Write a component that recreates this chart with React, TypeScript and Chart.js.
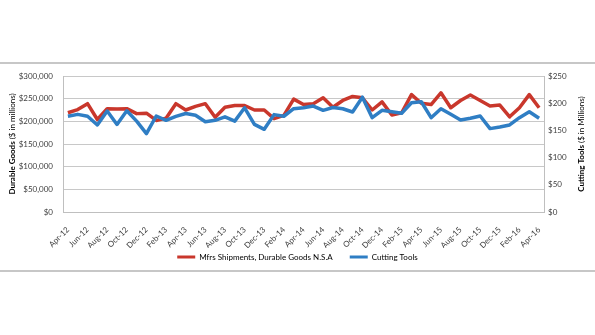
import React, { useEffect, useRef } from "react";
import { Chart, registerables } from "chart.js";

Chart.register(...registerables);

const months = [
  "Apr-12", "May-12", "Jun-12", "Jul-12", "Aug-12", "Sep-12", "Oct-12", "Nov-12", "Dec-12",
  "Jan-13", "Feb-13", "Mar-13", "Apr-13", "May-13", "Jun-13", "Jul-13", "Aug-13", "Sep-13", "Oct-13", "Nov-13", "Dec-13",
  "Jan-14", "Feb-14", "Mar-14", "Apr-14", "May-14", "Jun-14", "Jul-14", "Aug-14", "Sep-14", "Oct-14", "Nov-14", "Dec-14",
  "Jan-15", "Feb-15", "Mar-15", "Apr-15", "May-15", "Jun-15", "Jul-15", "Aug-15", "Sep-15", "Oct-15", "Nov-15", "Dec-15",
  "Jan-16", "Feb-16", "Mar-16", "Apr-16",
];

// Mfrs Shipments, Durable Goods N.S.A ($ in millions) - left axis
const durableGoods = [
  219000, 226000, 239000, 204000, 228000, 227000, 228000, 217000, 218000, 202000,
  207000, 239000, 225000, 233000, 239000, 209000, 231000, 235000, 235000, 225000,
  225000, 206000, 213000, 249000, 237000, 239000, 252000, 231000, 246000, 255000,
  252000, 225000, 243000, 214000, 219000, 259000, 240000, 237000, 263000, 230000,
  246000, 258000, 246000, 234000, 236000, 210000, 230000, 259000, 230000,
];

// Cutting Tools ($ in Millions) - right axis
const cuttingTools = [
  176, 179.5, 176, 160, 185.6, 161, 186, 167, 144, 176.5,
  168.6, 175.7, 181, 178, 166, 168.6, 175, 167, 191.6, 161,
  152, 179, 176, 190, 191.6, 194.7, 186.9, 192, 189.8, 183.8,
  211, 173.4, 186.9, 184.3, 181.4, 200.7, 202.6, 173.4, 189.8, 179.6,
  169.2, 172.2, 176.5, 153.3, 156.4, 160, 173.4, 184.3, 172.2,
];

const seriesNames = ["Mfrs Shipments, Durable Goods N.S.A", "Cutting Tools"];
const seriesColors = ["#C9372C", "#2F7EC4"];
const leftAxis = { min: 0, max: 300000, step: 50000 };
const rightAxis = { min: 0, max: 250, step: 50 };
const leftTitle = ["Durable Goods", " ($ in millions)"];
const rightTitle = ["Cutting Tools", " ($ in Millions)"];

const FONT = "Lato, 'Open Sans', sans-serif";
const LEGEND_SHIFT = 12;

function drawMixedTitle(ctx: CanvasRenderingContext2D, parts: string[], cx: number, cy: number) {
  ctx.save();
  ctx.translate(cx, cy);
  ctx.rotate(-Math.PI / 2);
  ctx.textBaseline = "middle";
  ctx.textAlign = "left";
  ctx.fillStyle = "#000";
  ctx.font = `bold 8px ${FONT}`;
  const w1 = ctx.measureText(parts[0]).width;
  ctx.font = `8px ${FONT}`;
  const w2 = ctx.measureText(parts[1]).width;
  const start = -(w1 + w2) / 2;
  ctx.font = `bold 8px ${FONT}`;
  ctx.fillText(parts[0], start, 0);
  ctx.font = `8px ${FONT}`;
  ctx.fillText(parts[1], start + w1, 0);
  ctx.restore();
}

const decor = {
  id: "decor",
  afterLayout(chart: any) {
    const lg = chart.legend;
    if (lg) {
      lg.top -= LEGEND_SHIFT;
      lg.bottom -= LEGEND_SHIFT;
      if (lg.legendHitBoxes) {
        lg.legendHitBoxes.forEach((h: any) => {
          h.top -= LEGEND_SHIFT;
        });
      }
    }
  },
  beforeDraw(chart: any) {
    const ctx = chart.ctx as CanvasRenderingContext2D;
    ctx.save();
    ctx.fillStyle = "#ffffff";
    ctx.fillRect(0, 0, chart.width, chart.height);
    ctx.strokeStyle = "#b5b5b5";
    ctx.lineWidth = 1.5;
    ctx.beginPath();
    ctx.moveTo(0, 63);
    ctx.lineTo(chart.width, 63);
    ctx.moveTo(0, 271);
    ctx.lineTo(chart.width, 271);
    ctx.stroke();
    ctx.restore();
  },
  afterDraw(chart: any) {
    const ctx = chart.ctx as CanvasRenderingContext2D;
    const area = chart.chartArea;
    const cy = (area.top + area.bottom) / 2;
    drawMixedTitle(ctx, leftTitle, 12, cy);
    drawMixedTitle(ctx, rightTitle, 581, cy);
  },
};

export default function App() {
  const ref = useRef<HTMLCanvasElement | null>(null);

  useEffect(() => {
    if (!ref.current) return;
    const tickFont = { family: FONT, size: 8 };
    const chart = new Chart(ref.current, {
      type: "line",
      data: {
        labels: months,
        datasets: [
          {
            label: seriesNames[0],
            data: durableGoods,
            borderColor: seriesColors[0],
            backgroundColor: seriesColors[0],
            borderWidth: 3.5,
            pointRadius: 0,
            tension: 0,
            borderJoinStyle: "round",
            yAxisID: "y",
            order: 1,
          },
          {
            label: seriesNames[1],
            data: cuttingTools,
            borderColor: seriesColors[1],
            backgroundColor: seriesColors[1],
            borderWidth: 3.5,
            pointRadius: 0,
            tension: 0,
            borderJoinStyle: "round",
            yAxisID: "y1",
            order: 0,
          },
        ],
      },
      options: {
        animation: false,
        responsive: false,
        maintainAspectRatio: false,
        layout: { padding: { top: 76, bottom: 52, left: 0, right: 0 } },
        plugins: {
          legend: {
            position: "bottom",
            labels: {
              boxWidth: 18,
              boxHeight: 3,
              padding: 17,
              color: "#000",
              font: { family: FONT, size: 8 },
              generateLabels: (c: any) => {
                const items = (Chart.defaults.plugins.legend.labels as any).generateLabels(c);
                return items
                  .map((it: any) => ({ ...it, lineWidth: 0 }))
                  .sort((a: any, b: any) => a.datasetIndex - b.datasetIndex);
              },
            },
          },
          tooltip: { enabled: false },
        },
        scales: {
          x: {
            type: "category",
            offset: true,
            grid: { display: false },
            border: { display: true, color: "#bfbfbf", width: 1 },
            ticks: {
              autoSkip: false,
              maxRotation: 45,
              minRotation: 45,
              padding: 5,
              color: "#404040",
              font: tickFont,
              callback: (_v: any, i: number) => (i % 2 === 0 ? months[i] : ""),
            },
            afterFit: (s: any) => {
              s.height = 36;
            },
          },
          y: {
            position: "left",
            min: leftAxis.min,
            max: leftAxis.max,
            grid: { color: "#c8c8c8", drawTicks: false },
            border: { display: true, color: "#bfbfbf", width: 1 },
            ticks: {
              stepSize: leftAxis.step,
              padding: 10,
              color: "#404040",
              font: tickFont,
              callback: (v: any) => "$" + Number(v).toLocaleString("en-US"),
            },
            afterFit: (s: any) => {
              s.width = 63;
            },
          },
          y1: {
            position: "right",
            min: rightAxis.min,
            max: rightAxis.max,
            grid: { display: false, drawTicks: false },
            border: { display: true, color: "#bfbfbf", width: 1 },
            ticks: {
              stepSize: rightAxis.step,
              padding: 4,
              color: "#404040",
              font: tickFont,
              callback: (v: any) => "$" + v,
            },
            afterFit: (s: any) => {
              s.width = 51;
            },
          },
        },
      },
      plugins: [decor],
    } as any);
    return () => chart.destroy();
  }, []);

  return (
    <div style={{ position: "fixed", left: 0, top: 0, width: 595, height: 335, background: "#fff" }}>
      <canvas ref={ref} width={595} height={335} style={{ display: "block" }} />
    </div>
  );
}
